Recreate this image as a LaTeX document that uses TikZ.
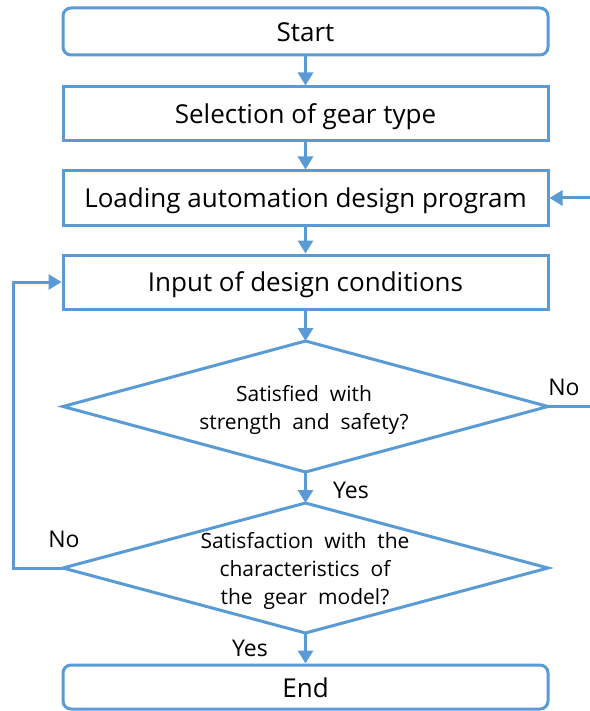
\documentclass[tikz,border=0pt]{standalone}
\usepackage{fontspec}
\setmainfont{Open Sans}
\usetikzlibrary{arrows.meta}
\definecolor{fc}{HTML}{5B9BD5}
\begin{document}
\begin{tikzpicture}[x=1pt,y=-1pt,
  boxstyle/.style={draw=fc,line width=3pt,minimum width=485pt,minimum height=54pt,inner sep=0pt,text height=19pt,text depth=0pt,font=\fontsize{26}{30}\selectfont},
  termstyle/.style={boxstyle,rounded corners=8pt,minimum height=47pt,text height=21pt},
  dectext/.style={inner sep=0pt,align=center,font=\fontsize{21}{28}\selectfont},
  decline/.style={draw=fc,line width=3pt,line join=miter},
  arr/.style={draw=fc,line width=3pt,-{Triangle[length=13pt,width=15pt]}},
  lbl/.style={font=\fontsize{23}{27}\selectfont,inner sep=0pt}]
\useasboundingbox (0,0) rectangle (589,711);
\fill[white] (0,0) rectangle (589,711);
\node[termstyle] (start) at (305.5,31.5) {Start};
\node[boxstyle] (sel) at (305.5,114) {Selection of gear type};
\node[boxstyle] (load) at (305.5,198) {Loading automation design program};
\node[boxstyle] (inp) at (305.5,282) {Input of design conditions};
% decision 1
\coordinate (d1t) at (305.5,341);
\coordinate (d1b) at (305.5,472);
\coordinate (d1l) at (63,406.5);
\coordinate (d1r) at (548,406.5);
\draw[decline] (d1t) -- (d1r) -- (d1b) -- (d1l) -- cycle;
\node[dectext] (d1) at (304,410) {Satisfied\ \ with\\strength\ \ and\ \ safety?};
% decision 2
\coordinate (d2t) at (305.5,503);
\coordinate (d2b) at (305.5,633);
\coordinate (d2l) at (63,568);
\coordinate (d2r) at (548,568);
\draw[decline] (d2t) -- (d2r) -- (d2b) -- (d2l) -- cycle;
\node[dectext] (d2) at (305,571) {Satisfaction\ \ with\ \ the\\characteristics\ \ of\\the\ \ gear\ \ model?};
\node[termstyle,minimum height=44pt] (end) at (305.5,687) {End};
\draw[arr] (start) -- (sel);
\draw[arr] (sel) -- (load);
\draw[arr] (load) -- (inp);
\draw[arr] (inp) -- (d1t);
\draw[arr] (d1b) -- (d2t);
\draw[arr] (d2b) -- (end);
\coordinate (rin) at (590,198);
\coordinate (rout) at (590,406.5);
\coordinate (lx) at (13,0);
\draw[arr] (rin) -- (load.east);
\draw[draw=fc,line width=3pt] (d1r) -- (rout);
\draw[arr] (d2l) -| (lx |- d2l) |- (inp.west);
\node[lbl] (no1) at (564,387) {No};
\node[lbl] (yes1) at (351,490) {Yes};
\node[lbl] (no2) at (64,539) {No};
\node[lbl] (yes2) at (250,648) {Yes};
\end{tikzpicture}
\end{document}
